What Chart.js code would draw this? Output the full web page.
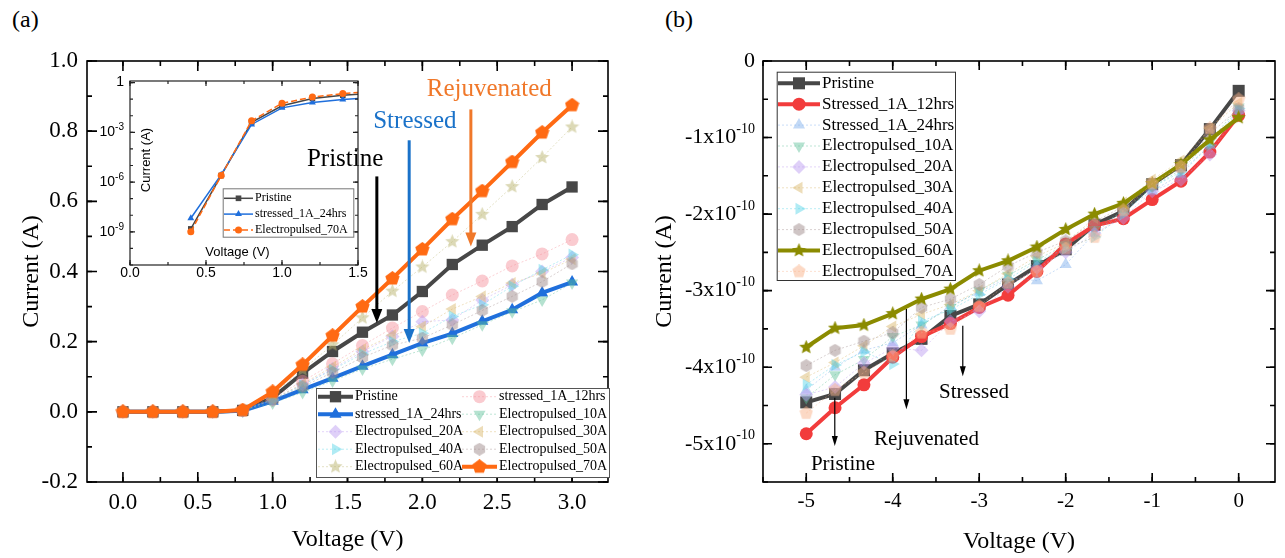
<!DOCTYPE html>
<html>
<head>
<meta charset="utf-8">
<title>I-V curves</title>
<script src="https://cdn.jsdelivr.net/npm/chart.js@4.4.1/dist/chart.umd.min.js"></script>
<style>
  html, body { margin: 0; background: #fff; }
  #wrap { position: relative; width: 1285px; height: 558px; overflow: hidden; }
  canvas { position: absolute; }
  .tag { position: absolute; font: 24px 'Liberation Serif', serif; line-height: 28px; }
</style>
</head>
<body>
<div id="wrap">
  <div class="tag" style="left:12px; top:5px">(a)</div>
  <div class="tag" style="left:665px; top:5px">(b)</div>
  <canvas id="chartA" width="640" height="558" style="left:0; top:0"></canvas>
  <canvas id="inset" width="285" height="215" style="left:90px; top:70px"></canvas>
  <canvas id="chartB" width="645" height="558" style="left:640px; top:0"></canvas>
</div>
<script>
// ---- panel (a): forward sweep, current in A ----
const voltageA = [0, 0.2, 0.4, 0.6, 0.8, 1.0, 1.2, 1.4, 1.6, 1.8, 2.0, 2.2, 2.4, 2.6, 2.8, 3.0];
const pristineA   = [0, 0, 1.5e-9, 2.5e-6, 0.004, 0.040, 0.110, 0.172, 0.227, 0.276, 0.343, 0.420, 0.475, 0.528, 0.591, 0.641];
const stressed12A = [0, 0, 0, 0, 0.004, 0.040, 0.087, 0.137, 0.189, 0.239, 0.286, 0.333, 0.373, 0.416, 0.450, 0.491];
const stressed24A = [0, 0, 6.6e-9, 2.8e-6, 0.003, 0.030, 0.063, 0.096, 0.130, 0.163, 0.196, 0.223, 0.258, 0.291, 0.339, 0.370];
const pulsed10A   = [0, 0, 0, 0, 0.002, 0.025, 0.055, 0.088, 0.122, 0.150, 0.176, 0.210, 0.248, 0.285, 0.319, 0.367];
const pulsed20A   = [0, 0, 0, 0, 0.003, 0.035, 0.078, 0.122, 0.172, 0.215, 0.257, 0.262, 0.319, 0.362, 0.400, 0.440];
const pulsed30A   = [0, 0, 0, 0, 0.003, 0.036, 0.080, 0.128, 0.178, 0.218, 0.243, 0.293, 0.329, 0.367, 0.395, 0.435];
const pulsed40A   = [0, 0, 0, 0, 0.003, 0.034, 0.076, 0.120, 0.165, 0.200, 0.224, 0.272, 0.305, 0.358, 0.405, 0.448];
const pulsed50A   = [0, 0, 0, 0, 0.003, 0.033, 0.072, 0.112, 0.155, 0.190, 0.210, 0.248, 0.289, 0.329, 0.371, 0.422];
const pulsed60A   = [0, 0, 0, 0, 0.004, 0.050, 0.120, 0.191, 0.268, 0.344, 0.413, 0.485, 0.563, 0.642, 0.725, 0.812];
const pulsed70A   = [0, 0, 1e-9, 2.5e-6, 0.005, 0.057, 0.134, 0.217, 0.300, 0.380, 0.463, 0.549, 0.629, 0.712, 0.796, 0.874];
const insetDecades = [1e-9, 1e-6, 1e-3, 1];

// ---- panel (b): reverse sweep, current in units of 1e-10 A ----
const voltageB = [-5, -4.667, -4.333, -4, -3.667, -3.333, -3, -2.667, -2.333, -2, -1.667, -1.333, -1, -0.667, -0.333, 0];
const pristineB   = [-4.46, -4.35, -4.04, -3.82, -3.63, -3.33, -3.18, -2.92, -2.68, -2.46, -2.14, -1.96, -1.61, -1.36, -0.89, -0.39];
const stressed12B = [-4.87, -4.53, -4.23, -3.87, -3.60, -3.43, -3.22, -3.06, -2.75, -2.39, -2.15, -2.06, -1.81, -1.57, -1.19, -0.71];
const stressed24B = [-4.30, -4.00, -3.78, -3.68, -3.45, -3.20, -3.02, -2.83, -2.87, -2.66, -2.25, -1.95, -1.70, -1.48, -1.10, -0.65];
const pulsed10B   = [-4.40, -4.10, -3.90, -3.60, -3.45, -3.22, -3.00, -2.80, -2.60, -2.40, -2.20, -1.95, -1.65, -1.42, -1.05, -0.60];
const pulsed20B   = [-4.36, -4.26, -3.95, -3.75, -3.78, -3.40, -3.27, -2.95, -2.70, -2.50, -2.25, -2.05, -1.70, -1.55, -1.22, -0.65];
const pulsed30B   = [-4.13, -3.94, -3.72, -3.47, -3.31, -3.18, -3.00, -2.78, -2.55, -2.38, -2.05, -1.85, -1.55, -1.30, -0.88, -0.55];
const pulsed40B   = [-4.23, -3.97, -3.80, -3.96, -3.40, -3.25, -3.05, -2.85, -2.62, -2.45, -2.30, -2.00, -1.65, -1.45, -1.10, -0.62];
const pulsed50B   = [-3.98, -3.78, -3.66, -3.55, -3.22, -3.11, -2.92, -2.68, -2.50, -2.35, -2.10, -1.90, -1.62, -1.40, -0.95, -0.62];
const pulsed60B   = [-3.74, -3.49, -3.45, -3.30, -3.11, -2.98, -2.74, -2.61, -2.43, -2.20, -2.00, -1.86, -1.60, -1.35, -1.03, -0.74];
const pulsed70B   = [-4.60, -4.30, -4.07, -3.85, -3.55, -3.50, -3.20, -2.90, -2.75, -2.45, -2.30, -1.95, -1.60, -1.38, -0.88, -0.50];

const SERIF = "'Liberation Serif', 'Times New Roman', serif";
const SANS = "'Liberation Sans', Arial, sans-serif";
Chart.defaults.font.family = SERIF;
Chart.defaults.color = '#000';

// filled polygon / star marker drawn on a small canvas (hexagon, pentagon, star)
function marker(n, size, color, inner) {
  const c = document.createElement('canvas');
  c.width = c.height = size;
  const g = c.getContext('2d');
  const r = size / 2, k = inner ? n * 2 : n;
  g.beginPath();
  for (let i = 0; i < k; i++) {
    const rr = inner && i % 2 ? r * inner : r;
    const a = -Math.PI / 2 + i * 2 * Math.PI / k;
    g.lineTo(r + rr * Math.cos(a), r + rr * Math.sin(a));
  }
  g.closePath();
  g.fillStyle = color;
  g.fill();
  return c;
}

function pts(xs, ys) {
  return xs.map((x, i) => ({x, y: ys[i]}));
}

function bold(label, xs, ys, color, style, radius, order, width) {
  return {label, data: pts(xs, ys), order,
    borderColor: color, backgroundColor: color, borderWidth: width || 4,
    pointStyle: style, pointRadius: radius, pointRotation: 0,
    pointBackgroundColor: color, pointBorderWidth: 0};
}

function pale(label, xs, ys, rgb, style, radius, rotation, order) {
  return {label, data: pts(xs, ys), order,
    borderColor: `rgba(${rgb},0.4)`, backgroundColor: `rgba(${rgb},0.45)`,
    borderWidth: 1, borderDash: [2, 2],
    pointStyle: style, pointRadius: radius, pointRotation: rotation,
    pointBackgroundColor: `rgba(${rgb},0.45)`, pointBorderWidth: 0};
}

const drawPoint = (Chart.helpers && Chart.helpers.drawPoint) || function (ctx, o, x, y) {
  ctx.beginPath(); ctx.arc(x, y, o.radius, 0, 2 * Math.PI); ctx.fill();
};

const fixed1 = v => (Math.abs(v) < 1e-9 ? 0 : v).toFixed(1);

// box with inward major/minor ticks on all four sides
function framePlugin(cfg) {
  const minors = (scale, step) => {
    const out = [];
    if (step === 'log') {
      for (let e = Math.ceil(Math.log10(scale.min)); e <= Math.floor(Math.log10(scale.max)); e++) out.push(Math.pow(10, e));
      return out;
    }
    for (let v = Math.ceil(scale.min / step - 1e-9) * step; v <= scale.max + 1e-9; v += step) out.push(v);
    return out;
  };
  return {
    id: 'frame',
    afterDatasetsDraw(chart) {
      const {ctx, chartArea: a, scales} = chart;
      const sx = scales.x, sy = scales.y;
      ctx.save();
      ctx.strokeStyle = cfg.color || '#000';
      ctx.lineWidth = cfg.width;
      ctx.strokeRect(a.left, a.top, a.right - a.left, a.bottom - a.top);
      const tick = (scale, v, len) => {
        const p = scale.getPixelForValue(v);
        ctx.beginPath();
        if (scale === sx) {
          ctx.moveTo(p, a.bottom); ctx.lineTo(p, a.bottom - len);
          ctx.moveTo(p, a.top); ctx.lineTo(p, a.top + len);
        } else {
          ctx.moveTo(a.left, p); ctx.lineTo(a.left + len, p);
          ctx.moveTo(a.right, p); ctx.lineTo(a.right - len, p);
        }
        ctx.stroke();
      };
      minors(sx, cfg.xMinor).forEach(v => tick(sx, v, cfg.minor));
      minors(sy, cfg.yMinor).forEach(v => tick(sy, v, cfg.minor));
      sx.ticks.forEach(t => tick(sx, t.value, cfg.major));
      sy.ticks.forEach(t => tick(sy, t.value, cfg.major));
      ctx.restore();
    }
  };
}

// y tick labels with a real superscript exponent
function sciLabels(cfg) {
  return {
    id: 'sciLabels',
    afterDraw(chart) {
      const {ctx, chartArea: a} = chart;
      const sy = chart.scales.y;
      ctx.save();
      ctx.fillStyle = '#000';
      ctx.textBaseline = 'middle';
      ctx.textAlign = 'left';
      sy.ticks.forEach(t => {
        const [base, sup] = cfg.format(t.value);
        const y = sy.getPixelForValue(t.value) + cfg.dy;
        ctx.font = cfg.font;
        const wb = ctx.measureText(base).width;
        ctx.font = cfg.supFont;
        const ws = sup ? ctx.measureText(sup).width : 0;
        const x0 = a.left - cfg.gap - wb - ws;
        ctx.font = cfg.font;
        ctx.fillText(base, x0, y);
        if (sup) {
          ctx.font = cfg.supFont;
          ctx.fillText(sup, x0 + wb, y - cfg.rise);
        }
      });
      ctx.restore();
    }
  };
}

// text labels with vertical arrows, placed in data coordinates
function notesPlugin(items) {
  return {
    id: 'notes',
    afterDatasetsDraw(chart) {
      const {ctx, scales: {x, y}} = chart;
      items.forEach(n => {
        ctx.save();
        ctx.fillStyle = ctx.strokeStyle = n.color;
        const ar = n.arrow;
        if (ar) {
          const ax = x.getPixelForValue(ar.x);
          const y1 = y.getPixelForValue(ar.y1), y2 = y.getPixelForValue(ar.y2);
          ctx.lineWidth = ar.w;
          ctx.beginPath(); ctx.moveTo(ax, y1); ctx.lineTo(ax, y2 - ar.hl + 1); ctx.stroke();
          ctx.beginPath();
          ctx.moveTo(ax - ar.hw / 2, y2 - ar.hl); ctx.lineTo(ax + ar.hw / 2, y2 - ar.hl); ctx.lineTo(ax, y2);
          ctx.closePath(); ctx.fill();
        }
        ctx.font = `${n.size}px ${SERIF}`;
        ctx.textAlign = 'center';
        ctx.textBaseline = 'middle';
        ctx.fillText(n.text, x.getPixelForValue(n.x), y.getPixelForValue(n.y));
        ctx.restore();
      });
    }
  };
}

// boxed legend laid out row by row in fixed columns
function legendPlugin(cfg) {
  return {
    id: 'boxLegend',
    afterDraw(chart) {
      const ctx = chart.ctx;
      const [l, t, r, b] = cfg.box;
      ctx.save();
      ctx.fillStyle = '#fff';
      ctx.fillRect(l, t, r - l, b - t);
      ctx.strokeStyle = cfg.border;
      ctx.lineWidth = 1;
      ctx.strokeRect(l + 0.5, t + 0.5, r - l, b - t);
      const cols = cfg.colX.length;
      chart.data.datasets.forEach((ds, i) => {
        const sx = cfg.colX[i % cols];
        const cy = cfg.rowY + Math.floor(i / cols) * cfg.rowH;
        ctx.save();
        ctx.strokeStyle = ds.borderColor;
        ctx.lineWidth = ds.borderWidth;
        ctx.setLineDash(ds.borderDash || []);
        ctx.beginPath(); ctx.moveTo(sx, cy); ctx.lineTo(sx + cfg.sampleW, cy); ctx.stroke();
        ctx.setLineDash([]);
        ctx.fillStyle = ds.pointBackgroundColor;
        drawPoint(ctx, {pointStyle: ds.pointStyle, radius: ds.pointRadius, rotation: ds.pointRotation || 0, borderWidth: 0},
          sx + cfg.sampleW / 2, cy);
        ctx.restore();
        ctx.font = cfg.font;
        ctx.fillStyle = '#000';
        ctx.textBaseline = 'middle';
        ctx.textAlign = 'left';
        ctx.fillText(ds.label, sx + cfg.sampleW + cfg.gap, cy);
      });
      ctx.restore();
    }
  };
}

const hideUi = {legend: {display: false}, tooltip: {enabled: false}};

// ---------- panel (a) ----------
const datasetsA = [
  bold('Pristine', voltageA, pristineA, '#474747', 'rect', 8, 10),
  pale('stressed_1A_12hrs', voltageA, stressed12A, '245,140,150', 'circle', 6.5, 0, 9),
  bold('stressed_1A_24hrs', voltageA, stressed24A, '#1f6fdc', 'triangle', 7, 8),
  pale('Electropulsed_10A', voltageA, pulsed10A, '90,190,150', 'triangle', 7, 180, 7),
  pale('Electropulsed_20A', voltageA, pulsed20A, '185,150,240', 'rectRot', 7, 0, 6),
  pale('Electropulsed_30A', voltageA, pulsed30A, '215,180,100', 'triangle', 7, -90, 5),
  pale('Electropulsed_40A', voltageA, pulsed40A, '80,210,230', 'triangle', 7, 90, 4),
  pale('Electropulsed_50A', voltageA, pulsed50A, '160,140,140', marker(6, 13, 'rgba(160,140,140,0.5)'), 6.5, 0, 3),
  pale('Electropulsed_60A', voltageA, pulsed60A, '185,180,110', marker(5, 15, 'rgba(185,180,110,0.5)', 0.45), 7, 0, 2),
  bold('Electropulsed_70A', voltageA, pulsed70A, '#ff6a13', marker(5, 15, '#ff6a13'), 7, 1)
];

new Chart(document.getElementById('chartA'), {
  type: 'line',
  data: {datasets: datasetsA},
  options: {
    responsive: false, animation: false, devicePixelRatio: 1,
    layout: {padding: {left: 0, top: 61, right: 32, bottom: 0}},
    elements: {line: {tension: 0}},
    plugins: hideUi,
    scales: {
      x: {
        type: 'linear', min: -0.24, max: 3.24,
        grid: {display: false, drawTicks: false}, border: {display: false},
        ticks: {stepSize: 0.5, includeBounds: false, autoSkip: false, maxRotation: 0, padding: 7,
          font: {size: 23}, callback: fixed1},
        title: {display: true, text: 'Voltage (V)', font: {size: 24}, padding: {top: 0, bottom: 4}},
        afterFit: s => { s.height = 76; }
      },
      y: {
        type: 'linear', min: -0.2, max: 1.0,
        grid: {display: false, drawTicks: false}, border: {display: false},
        ticks: {stepSize: 0.2, includeBounds: false, padding: 9, font: {size: 23}, callback: fixed1},
        title: {display: true, text: 'Current (A)', font: {size: 24}, padding: {top: 17, bottom: 0}},
        afterFit: s => { s.width = 87; }
      }
    }
  },
  plugins: [
    framePlugin({width: 1.6, major: 10, minor: 5, xMinor: 0.25, yMinor: 0.1}),
    notesPlugin([
      {text: 'Pristine', color: '#000', size: 25, x: 1.484, y: 0.719,
        arrow: {x: 1.696, y1: 0.671, y2: 0.253, w: 3, hw: 11, hl: 14}},
      {text: 'Stressed', color: '#1a72c9', size: 25, x: 1.95, y: 0.829,
        arrow: {x: 1.912, y1: 0.774, y2: 0.196, w: 3, hw: 11, hl: 14}},
      {text: 'Rejuvenated', color: '#f0782a', size: 25, x: 2.447, y: 0.919,
        arrow: {x: 2.324, y1: 0.862, y2: 0.471, w: 3, hw: 11, hl: 14}}
    ]),
    legendPlugin({box: [316, 388, 609, 477], border: '#555', colX: [318, 462], sampleW: 35, gap: 2,
      rowY: 396.7, rowH: 17.5, font: `14px ${SERIF}`})
  ]
});

// ---------- inset of panel (a), log current ----------
const positive = (xs, ys) => pts(xs, ys).filter(p => p.y > 0);
const datasetsInset = [
  Object.assign(bold('Pristine', voltageA, pristineA, '#474747', 'rect', 4, 3, 1.5), {data: positive(voltageA, pristineA)}),
  Object.assign(bold('stressed_1A_24hrs', voltageA, stressed24A, '#1f6fdc', 'triangle', 4, 2, 1.5), {data: positive(voltageA, stressed24A)}),
  Object.assign(bold('Electropulsed_70A', voltageA, pulsed70A, '#ff6a13', 'circle', 3.5, 1, 1.5),
    {data: positive(voltageA, pulsed70A), borderDash: [6, 3]})
];

new Chart(document.getElementById('inset'), {
  type: 'line',
  data: {datasets: datasetsInset},
  options: {
    responsive: false, animation: false, devicePixelRatio: 1,
    layout: {padding: {left: 0, top: 11, right: 17, bottom: 0}},
    elements: {line: {tension: 0}},
    plugins: hideUi,
    scales: {
      x: {
        type: 'linear', min: 0, max: 1.5,
        grid: {display: false, drawTicks: false}, border: {display: false},
        ticks: {stepSize: 0.5, autoSkip: false, maxRotation: 0, padding: 0,
          font: {family: SANS, size: 14}, callback: fixed1},
        afterFit: s => { s.height = 20; }
      },
      y: {
        type: 'logarithmic', min: 1e-11, max: 1.25,
        grid: {display: false, drawTicks: false}, border: {display: false},
        ticks: {display: false},
        afterBuildTicks: s => { s.ticks = insetDecades.map(v => ({value: v})); },
        afterFit: s => { s.width = 40; }
      }
    }
  },
  plugins: [
    framePlugin({width: 1.2, color: '#222', major: 5, minor: 3, xMinor: 0.25, yMinor: 'log'}),
    sciLabels({font: `14px ${SANS}`, supFont: `10px ${SANS}`, gap: 6, rise: 5, dy: 0,
      format: v => v >= 1 ? ['1', ''] : ['10', String(Math.round(Math.log10(v)))]}),
    {
      id: 'insetTitles',
      afterDraw(chart) {
        const {ctx, chartArea: a} = chart;
        ctx.save();
        ctx.fillStyle = '#000';
        ctx.font = `13px ${SANS}`;
        ctx.textAlign = 'center';
        ctx.textBaseline = 'middle';
        ctx.fillText('Voltage (V)', a.left + 107.5, a.bottom - 13);
        ctx.translate(a.left + 16, a.top + 79);
        ctx.rotate(-Math.PI / 2);
        ctx.fillText('Current (A)', 0, 0);
        ctx.restore();
      }
    },
    legendPlugin({box: [132.7, 118.3, 263.3, 166.7], border: '#777', colX: [134], sampleW: 29, gap: 2,
      rowY: 128.3, rowH: 15.8, font: `12px ${SERIF}`})
  ]
});

// ---------- panel (b) ----------
const datasetsB = [
  bold('Pristine', voltageB, pristineB, '#474747', 'rect', 8.5, 10),
  bold('Stressed_1A_12hrs', voltageB, stressed12B, '#f23c3c', 'circle', 6.5, 9),
  pale('Stressed_1A_24hrs', voltageB, stressed24B, '120,170,235', 'triangle', 7, 0, 8),
  pale('Electropulsed_10A', voltageB, pulsed10B, '90,190,150', 'triangle', 7, 180, 7),
  pale('Electropulsed_20A', voltageB, pulsed20B, '185,150,240', 'rectRot', 7, 0, 6),
  pale('Electropulsed_30A', voltageB, pulsed30B, '215,180,100', 'triangle', 7, -90, 5),
  pale('Electropulsed_40A', voltageB, pulsed40B, '80,210,230', 'triangle', 7, 90, 4),
  pale('Electropulsed_50A', voltageB, pulsed50B, '160,140,140', marker(6, 13, 'rgba(160,140,140,0.5)'), 6.5, 0, 3),
  bold('Electropulsed_60A', voltageB, pulsed60B, '#8b8b00', marker(5, 15, '#8b8b00', 0.45), 7, 2),
  pale('Electropulsed_70A', voltageB, pulsed70B, '250,180,140', marker(5, 14, 'rgba(250,180,140,0.5)'), 7, 0, 1)
];

new Chart(document.getElementById('chartB'), {
  type: 'line',
  data: {datasets: datasetsB},
  options: {
    responsive: false, animation: false, devicePixelRatio: 1,
    layout: {padding: {left: 0, top: 61, right: 10, bottom: 0}},
    elements: {line: {tension: 0}},
    plugins: hideUi,
    scales: {
      x: {
        type: 'linear', min: -5.5, max: 0.42,
        grid: {display: false, drawTicks: false}, border: {display: false},
        ticks: {stepSize: 1, includeBounds: false, autoSkip: false, maxRotation: 0, padding: 7,
          font: {size: 21}, callback: v => String(v)},
        title: {display: true, text: 'Voltage (V)', font: {size: 24}, padding: {top: 0, bottom: 2}},
        afterFit: s => { s.height = 76; }
      },
      y: {
        type: 'linear', min: -5.5, max: 0,
        grid: {display: false, drawTicks: false}, border: {display: false},
        ticks: {stepSize: 1, includeBounds: false, display: false},
        title: {display: true, text: 'Current (A)', font: {size: 24}, padding: {top: 10, bottom: 0}},
        afterFit: s => { s.width = 123; }
      }
    }
  },
  plugins: [
    framePlugin({width: 1.6, major: 9, minor: 5, xMinor: 0.5, yMinor: 0.5}),
    sciLabels({font: `22px ${SERIF}`, supFont: `14px ${SERIF}`, gap: 8, rise: 8, dy: 0,
      format: v => Math.round(v) === 0 ? ['0', ''] : [Math.round(v) + 'x10', '-10']}),
    notesPlugin([
      {text: 'Pristine', color: '#000', size: 21, x: -4.575, y: -5.27,
        arrow: {x: -4.67, y1: -4.40, y2: -5.03, w: 1.2, hw: 6, hl: 10}},
      {text: 'Rejuvenated', color: '#000', size: 21, x: -3.61, y: -4.95,
        arrow: {x: -3.842, y1: -3.24, y2: -4.55, w: 1.2, hw: 6, hl: 10}},
      {text: 'Stressed', color: '#000', size: 21, x: -3.06, y: -4.33,
        arrow: {x: -3.19, y1: -3.46, y2: -4.12, w: 1.2, hw: 6, hl: 10}}
    ]),
    legendPlugin({box: [136.7, 71.7, 315, 280], border: '#333', colX: [138], sampleW: 42, gap: 2,
      rowY: 83.3, rowH: 20.9, font: `17px ${SERIF}`})
  ]
});
</script>
</body>
</html>
